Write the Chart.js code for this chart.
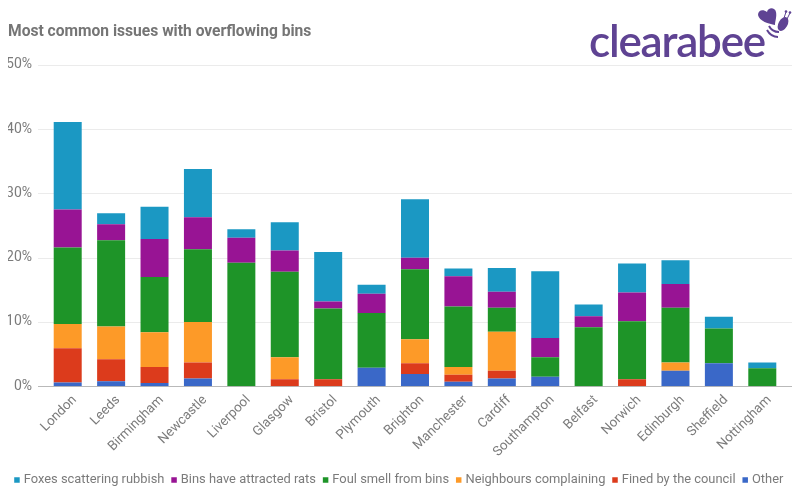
<!DOCTYPE html>
<html>
<head>
<meta charset="UTF-8">
<title>Most common issues with overflowing bins</title>
<script src="https://cdn.jsdelivr.net/npm/chart.js@4"></script>
<style>
  body { margin:0; background:#fff; }
  #wrap { position:relative; width:794px; height:490px; overflow:hidden; }
  #logoText { position:absolute; left:589px; top:10px; font:600 44px Lato,sans-serif; letter-spacing:-1.2px; color:#5f4393; line-height:60px; }
  #logoBee { position:absolute; left:750px; top:0; }
</style>
</head>
<body>
<div id="wrap">
  <canvas id="chart" width="794" height="490"></canvas>
  <div id="logoText">clearabee</div>
  <svg id="logoBee" width="44" height="44" viewBox="0 0 44 44">
    <path d="M25 25 C19 24 9 21 8 15 C8 10 13 9 17 12 C18 7 25 7 26 12 C27 17 25 21 25 25 Z" fill="#5f4393"/>
    <ellipse cx="33" cy="24" rx="4.5" ry="7.5" fill="#5f4393" transform="rotate(30 33 24)"/>
    <path d="M34 18 L36 12 M37 19 L40 13" stroke="#5f4393" stroke-width="1"/>
    <circle cx="36" cy="11.5" r="1.3" fill="#5f4393"/>
    <circle cx="40" cy="12.5" r="1.3" fill="#5f4393"/>
    <path d="M19 26 Q22 32 29 32 M17 30 Q21 37 28 37" stroke="#5f4393" stroke-width="2" fill="none"/>
  </svg>
</div>
<script>
const cities = ["London","Leeds","Birmingham","Newcastle","Liverpool","Glasgow","Bristol","Plymouth","Brighton","Manchester","Cardiff","Southampton","Belfast","Norwich","Edinburgh","Sheffield","Nottingham"];
const other      = [0.6,0.8,0.5,1.2,0,0,0,2.9,1.9,0.7,1.2,1.5,0,0,2.4,3.6,0];
const fined      = [5.3,3.4,2.5,2.5,0,1.1,1.1,0,1.7,1.1,1.2,0,0,1.1,0,0,0];
const neighbours = [3.8,5.1,5.4,6.3,0,3.4,0,0,3.7,1.2,6.1,0,0,0,1.3,0,0];
const foul       = [11.9,13.4,8.6,11.3,19.2,13.3,11.0,8.5,10.9,9.4,3.7,3.0,9.2,9.0,8.5,5.4,2.8];
const rats       = [5.9,2.5,5.9,5.0,3.9,3.3,1.1,3.0,1.8,4.7,2.5,3.0,1.7,4.5,3.7,0,0];
const foxes      = [13.6,1.7,5.0,7.5,1.3,4.4,7.7,1.4,9.1,1.2,3.7,10.4,1.8,4.5,3.7,1.8,0.9];
const yTicks = [0,10,20,30,40,50];

const grey = "#7b7b7b";

// gridlines run a bit past the bars on both sides
const longGrid = {
  id:"longGrid",
  beforeDatasetsDraw(chart){
    const {ctx,chartArea,scales} = chart;
    ctx.save();
    for(const v of yTicks){
      const y = Math.round(scales.y.getPixelForValue(v))+0.5;
      ctx.strokeStyle = v==0 ? "#b9b9b9" : "#ebebeb";
      ctx.beginPath();
      ctx.moveTo(chartArea.left-8,y);
      ctx.lineTo(chartArea.right+8,y);
      ctx.stroke();
    }
    ctx.restore();
  }
};

// legend needs a bit more room than the padded box to stay on one row
const legendFit = {
  id:"legendFit",
  beforeLayout(chart){
    const legend = chart.legend;
    if(legend.wide) return;
    legend.wide = true;
    const update = legend.update;
    legend.update = function(w,h,m){ return update.call(this,w+18,h,m); };
  },
  afterLayout(chart){
    chart.legend.left = 2;
    chart.legend.right = 798;
    chart.legend.top += 7;
    chart.legend.bottom += 7;
  }
};

function series(label,data,color){
  return {label,data,backgroundColor:color,borderWidth:0,categoryPercentage:0.645,barPercentage:1};
}

new Chart(document.getElementById("chart"),{
  type:"bar",
  data:{
    labels:cities,
    datasets:[
      series("Other",other,"#3a68c8"),
      series("Fined by the council",fined,"#dc3b1c"),
      series("Neighbours complaining",neighbours,"#fd9a28"),
      series("Foul smell from bins",foul,"#1e9428"),
      series("Bins have attracted rats",rats,"#981494"),
      series("Foxes scattering rubbish",foxes,"#1b98c3")
    ]
  },
  options:{
    responsive:false,
    animation:false,
    layout:{padding:{left:8,right:10,top:0,bottom:0.5}},
    plugins:{
      title:{
        display:true,
        text:"Most common issues with overflowing bins",
        align:"start",
        color:"#757575",
        font:{family:"Roboto",size:15.6,weight:"bold"},
        padding:{top:23,bottom:23}
      },
      legend:{
        position:"bottom",
        reverse:true,
        labels:{
          usePointStyle:true,
          pointStyle:"rect",
          boxWidth:0.6,
          boxHeight:5.5,
          padding:9.3,
          color:grey,
          font:{family:"Roboto",size:12.9}
        }
      },
      tooltip:{enabled:false}
    },
    scales:{
      x:{
        stacked:true,
        grid:{display:false,drawTicks:false},
        border:{display:false},
        ticks:{
          color:grey,
          font:{family:"Roboto",size:13.3},
          minRotation:45,
          maxRotation:45,
          autoSkip:false,
          padding:6,
          labelOffset:7
        },
        afterFit(scale){ scale.height = 71; }
      },
      y:{
        stacked:true,
        min:0,
        max:50,
        grid:{display:false,drawTicks:false},
        border:{display:false},
        afterBuildTicks(scale){ scale.ticks = yTicks.map(v=>({value:v})); },
        ticks:{
          color:grey,
          font:{family:"Roboto",size:14},
          padding:14,
          callback:v=>v+"%"
        },
        afterFit(scale){ scale.width = 38; }
      }
    }
  },
  plugins:[longGrid,legendFit]
});
</script>
</body>
</html>
